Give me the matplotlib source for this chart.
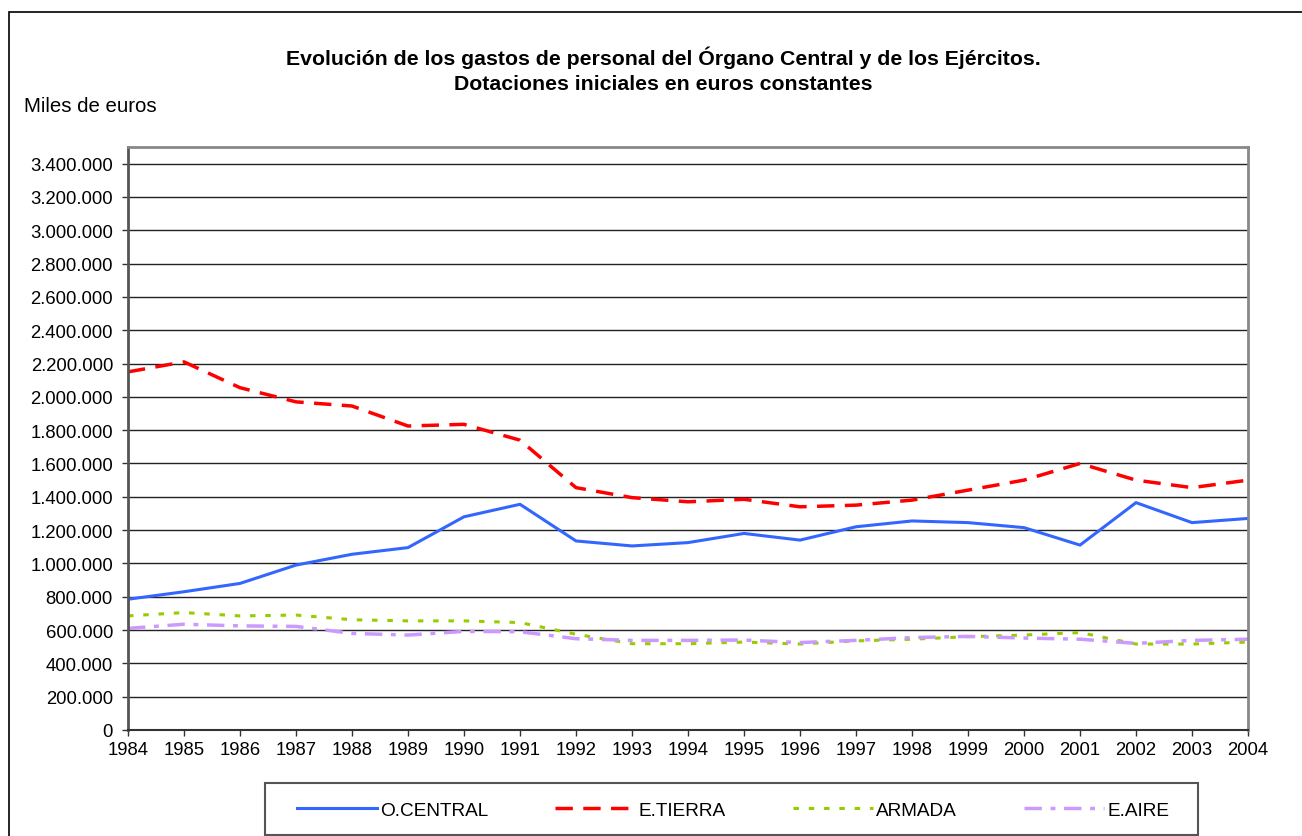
import matplotlib
matplotlib.use("Agg")
import matplotlib.pyplot as plt
from matplotlib.patches import Rectangle
from matplotlib.ticker import FuncFormatter

plt.rcParams['font.family'] = ['Liberation Sans', 'DejaVu Sans']

# datos en miles de euros
years = list(range(1984, 2005))
o_central = [785000, 830000, 880000, 990000, 1055000, 1095000, 1280000, 1355000,
             1135000, 1105000, 1125000, 1180000, 1140000, 1220000, 1255000, 1245000,
             1215000, 1110000, 1365000, 1245000, 1270000]
e_tierra = [2150000, 2210000, 2055000, 1970000, 1945000, 1825000, 1835000, 1740000,
            1455000, 1395000, 1370000, 1385000, 1340000, 1350000, 1380000, 1440000,
            1500000, 1600000, 1500000, 1455000, 1500000]
armada = [685000, 705000, 685000, 690000, 662000, 655000, 655000, 645000,
          575000, 518000, 518000, 528000, 516000, 535000, 545000, 560000,
          570000, 585000, 516000, 516000, 528000]
e_aire = [610000, 635000, 625000, 622000, 580000, 570000, 592000, 590000,
          548000, 538000, 538000, 540000, 525000, 538000, 555000, 562000,
          552000, 545000, 520000, 538000, 545000]
labels = ['O.CENTRAL', 'E.TIERRA', 'ARMADA', 'E.AIRE']

W, H = 1302, 837
fig = plt.figure(figsize=(W / 100, H / 100), dpi=100)
ax = fig.add_axes([128 / W, 1 - 731 / H, 1120 / W, 583 / H])

ax.plot(years, o_central, color='#3366FF', lw=2.2, label=labels[0])
ax.plot(years, e_tierra, color='#FF0000', lw=2.5, dashes=(5, 3), label=labels[1])
ax.plot(years, armada, color='#99CC00', lw=2.2, dashes=(1.8, 3.2), label=labels[2])
ax.plot(years, e_aire, color='#CC99FF', lw=2.5, dashes=(5, 2.5, 1.4, 2.5), label=labels[3])

ax.set_xlim(1984, 2004)
ax.set_ylim(0, 3500000)
ax.set_xticks(years)
ax.set_yticks(range(0, 3400001, 200000))
ax.yaxis.set_major_formatter(FuncFormatter(lambda v, p: f'{int(v):,}'.replace(',', '.')))
ax.tick_params(labelsize=13.3, length=4.5, width=1, color='#333333')
ax.tick_params(axis='y', pad=6.3)
ax.tick_params(axis='x', pad=3.5)
ax.grid(axis='y', color='#222222', lw=1)
ax.set_axisbelow(True)
for side in ['top', 'right']:
    ax.spines[side].set_color('#888888')
    ax.spines[side].set_linewidth(2)
ax.spines['left'].set_color('#555555')
ax.spines['left'].set_linewidth(2)
ax.spines['bottom'].set_color('#333333')
ax.spines['bottom'].set_linewidth(1.5)

fig.text(663 / W, 1 - 58 / H,
         'Evolución de los gastos de personal del Órgano Central y de los Ejércitos.',
         ha='center', va='center', fontsize=15.3, fontweight='bold')
fig.text(663 / W, 1 - 85 / H, 'Dotaciones iniciales en euros constantes',
         ha='center', va='center', fontsize=15.3, fontweight='bold')
fig.text(24 / W, 1 - 107 / H, 'Miles de euros', ha='left', va='center', fontsize=14.7)

# leyenda sin marco propio, con el recuadro dibujado aparte
fig.legend(loc='center', bbox_to_anchor=(733 / W, 1 - 811 / H), ncol=4,
           fontsize=13.7, frameon=False, handlelength=4.2, handletextpad=0.2,
           columnspacing=3.5, borderpad=0, borderaxespad=0)
fig.patches.append(Rectangle((265 / W, 1 - 836 / H), 933 / W, 52 / H,
                             transform=fig.transFigure, fill=False,
                             edgecolor='#555555', lw=1.5))

# marco exterior
fig.patches.append(Rectangle((9 / W, -0.05), 1.2, 1 - 13 / H + 0.05,
                             transform=fig.transFigure, fill=False,
                             edgecolor='black', lw=1.2))

fig.savefig('out.png', dpi=100)
